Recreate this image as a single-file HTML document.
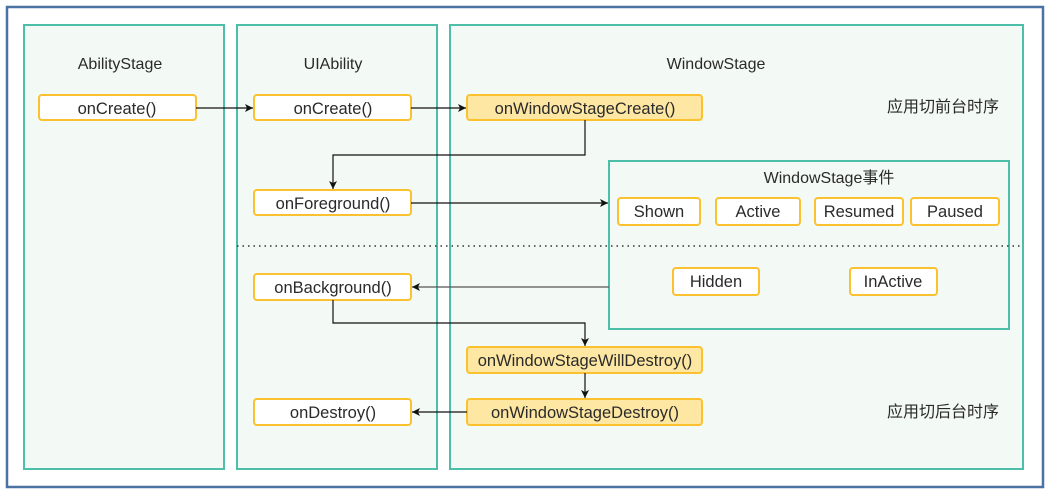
<!DOCTYPE html>
<html><head><meta charset="utf-8"><style>
html,body{margin:0;padding:0;background:#fff;}
svg{display:block;}
text{font-family:"Liberation Sans","Noto Sans CJK SC",sans-serif;fill:#2a2a2a;}
</style></head><body>
<svg width="1064" height="501" viewBox="0 0 1064 501" xmlns="http://www.w3.org/2000/svg">
<defs>
<marker id="a" markerWidth="10" markerHeight="10" refX="8" refY="5" orient="auto" markerUnits="userSpaceOnUse">
<path d="M0,1 L8,5 L0,9 L2,5 Z" fill="#111"/></marker>
</defs>
<rect x="7" y="7" width="1036" height="480" fill="#fff" stroke="#4a72a2" stroke-width="2.5"/>
<g fill="#f3f9f4" stroke="#4dbfa8" stroke-width="2">
<rect x="24" y="25" width="200" height="444"/>
<rect x="237" y="25" width="200" height="444"/>
<rect x="450" y="25" width="573" height="444"/>
<rect x="609" y="161" width="400" height="168"/>
</g>
<line x1="237" y1="246" x2="1022" y2="246" stroke="#333" stroke-width="1.5" stroke-dasharray="1.5,4"/>
<g font-size="16" text-anchor="middle">
<text x="120" y="69">AbilityStage</text>
<text x="333" y="69">UIAbility</text>
<text x="716" y="69">WindowStage</text>
<text x="829" y="183">WindowStage事件</text>
<text x="943" y="112">应用切前台时序</text>
<text x="943" y="417">应用切后台时序</text>
</g>
<g stroke="#fbc12e" stroke-width="2">
<rect x="39" y="95" width="157" height="25" rx="3" fill="#fff"/>
<rect x="254" y="95" width="157" height="25" rx="3" fill="#fff"/>
<rect x="254" y="190" width="157" height="25" rx="3" fill="#fff"/>
<rect x="254" y="274" width="157" height="26" rx="3" fill="#fff"/>
<rect x="254" y="399" width="157" height="26" rx="3" fill="#fff"/>
<rect x="467" y="95" width="235" height="25" rx="3" fill="#fde7a3"/>
<rect x="467" y="347" width="235" height="26" rx="3" fill="#fde7a3"/>
<rect x="467" y="399" width="235" height="26" rx="3" fill="#fde7a3"/>
<rect x="618" y="198" width="82" height="27" rx="3" fill="#fff"/>
<rect x="716" y="198" width="84" height="27" rx="3" fill="#fff"/>
<rect x="815" y="198" width="88" height="27" rx="3" fill="#fff"/>
<rect x="911" y="198" width="88" height="27" rx="3" fill="#fff"/>
<rect x="673" y="268" width="86" height="27" rx="3" fill="#fff"/>
<rect x="850" y="268" width="87" height="27" rx="3" fill="#fff"/>
</g>
<g font-size="16.5" text-anchor="middle">
<text x="117" y="114">onCreate()</text>
<text x="333" y="114">onCreate()</text>
<text x="333" y="209">onForeground()</text>
<text x="333" y="293">onBackground()</text>
<text x="333" y="418">onDestroy()</text>
<text x="585" y="114">onWindowStageCreate()</text>
<text x="585" y="366">onWindowStageWillDestroy()</text>
<text x="585" y="418">onWindowStageDestroy()</text>
<text x="659" y="217">Shown</text>
<text x="758" y="217">Active</text>
<text x="859" y="217">Resumed</text>
<text x="955" y="217">Paused</text>
<text x="716" y="287">Hidden</text>
<text x="893" y="287">InActive</text>
</g>
<g stroke="#111" stroke-width="1.2" fill="none" marker-end="url(#a)">
<path d="M196,108 H253"/>
<path d="M411,108 H466"/>
<path d="M585,120 V155 H333 V189"/>
<path d="M411,203 H608"/>
<path d="M609,287 H412" stroke="#555"/>
<path d="M333,300 V323 H585 V346"/>
<path d="M585,373 V398"/>
<path d="M467,412 H412"/>
</g>
</svg>
</body></html>
